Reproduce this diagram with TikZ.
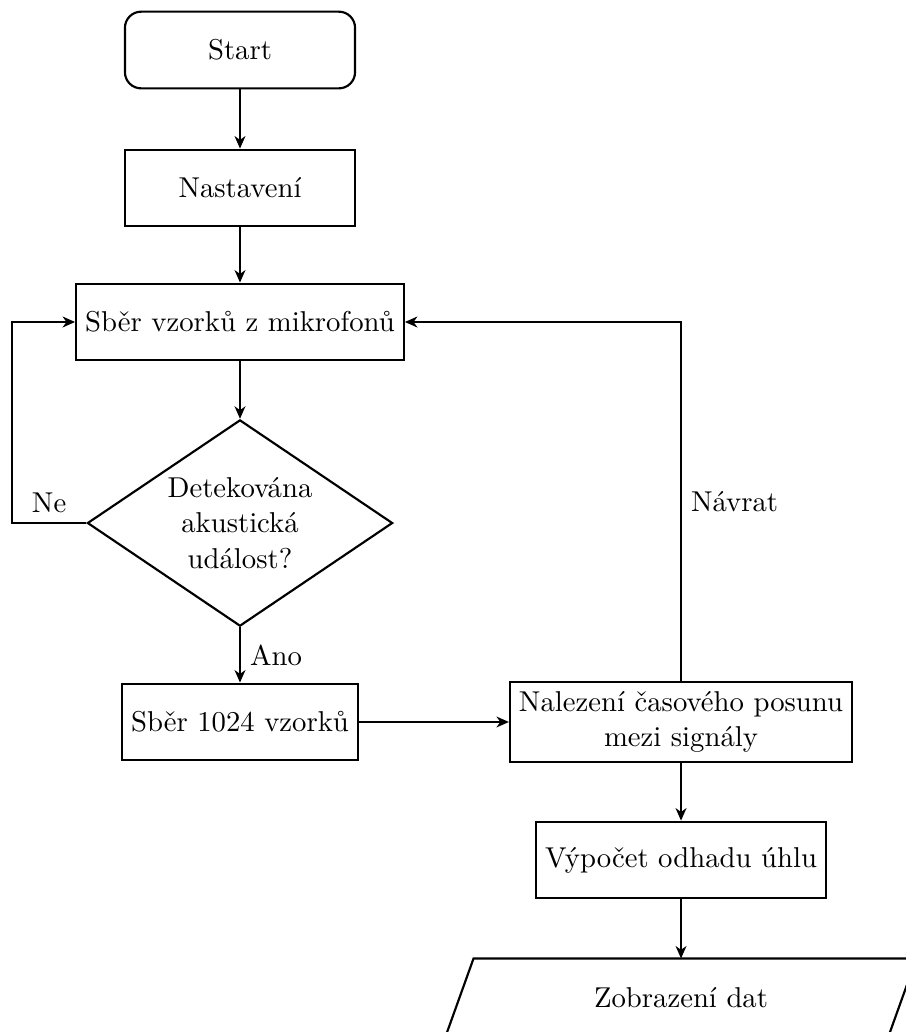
\documentclass[tikz,border=0pt]{standalone}
\usepackage{fontspec}
\usetikzlibrary{shapes.geometric,calc,arrows.meta}
\begin{document}
\begin{tikzpicture}[
  font=\fontsize{10.65}{13.3}\selectfont,
  box/.style={draw, thick, minimum width=3cm, minimum height=1cm, align=center},
  startbox/.style={box, rounded corners=6pt},
  decision/.style={draw, thick, diamond, aspect=1.48, minimum width=3.98cm, minimum height=2.69cm, inner sep=0pt, align=center},
  arr/.style={thick,-{Stealth[length=4.6pt,width=4pt,inset=1.4pt]}},
  ioshape/.style={minimum width=5.76cm, minimum height=1cm}
]
\useasboundingbox (0,0) rectangle (11.8,-13.455);
\node[startbox] (start) at (3.129,-0.652) {Start};
\node[box] (setup) at (3.129,-2.451) {Nastavení};
\node[box] (collect) at (3.129,-4.198) {Sběr vzorků z mikrofonů};
\node[decision] (dec) at (3.129,-6.819) {Detekována\\akustická\\událost?};
\node[box] (s1024) at (3.129,-9.413) {Sběr 1024 vzorků};
\node[box] (find) at (8.879,-9.413) {Nalezení časového posunu\\mezi signály};
\node[box] (calc) at (8.879,-11.213) {Výpočet odhadu úhlu};
\node[ioshape] (disp) at (8.879,-13.003) {Zobrazení dat};
\draw[thick] ($(disp.north west)+(0.182,0)$) -- ($(disp.north east)+(0.182,0)$) -- ($(disp.south east)-(0.182,0)$) -- ($(disp.south west)-(0.182,0)$) -- cycle;
\coordinate (ne) at (0.156,-6.819);

\draw[arr] (start) -- (setup);
\draw[arr] (setup) -- (collect);
\draw[arr] (collect) -- (dec);
\draw[arr] (dec.south) -- node[right] {Ano} (s1024.north);
\draw[arr] (dec.west) -- node[above] {Ne} (ne) |- (collect.west);
\draw[arr] (s1024) -- (find);
\draw[arr] (find.north) -- node[right] {Návrat} (find.north |- collect.east) -- (collect.east);
\draw[arr] (find) -- (calc);
\draw[arr] (calc.south) -- (disp.north);
\end{tikzpicture}
\end{document}
